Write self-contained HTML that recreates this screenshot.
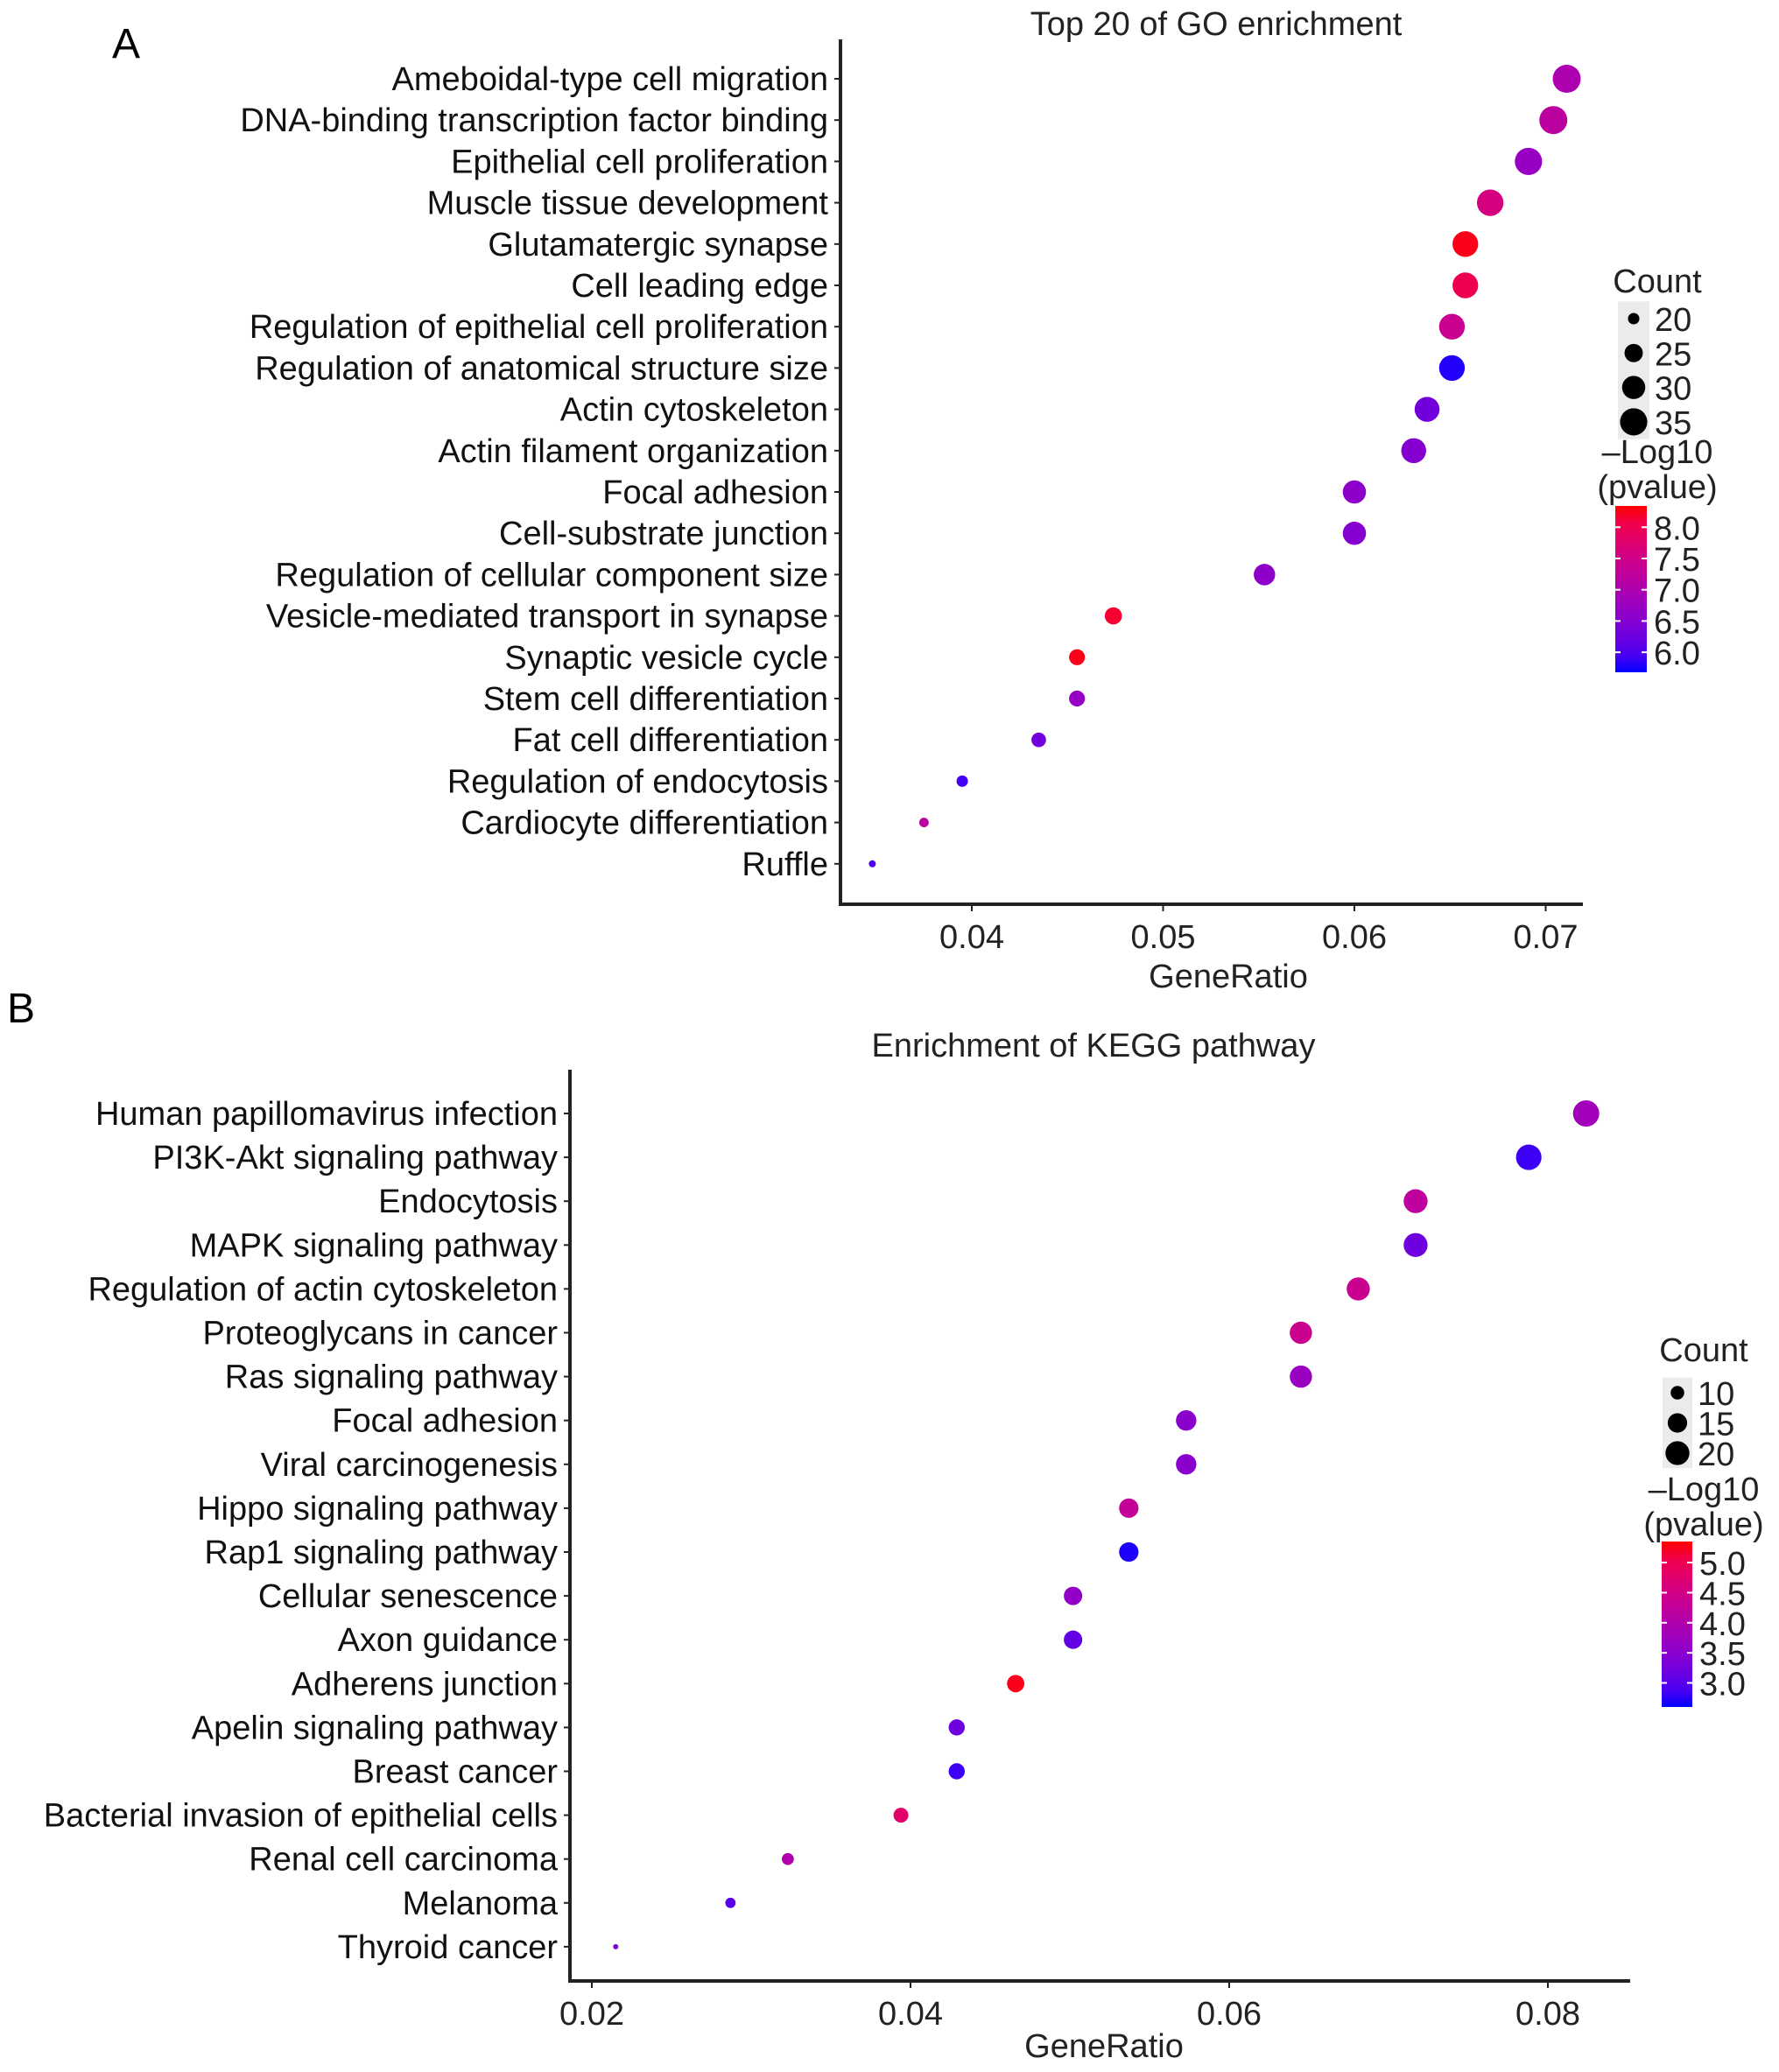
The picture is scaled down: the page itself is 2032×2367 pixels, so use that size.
<!DOCTYPE html>
<html><head><meta charset="utf-8"><style>
html,body{margin:0;padding:0;background:#fff;}
svg{display:block;font-family:"Liberation Sans",Arial,sans-serif;}
</style></head><body>
<svg id="chart" width="2032" height="2367" viewBox="0 0 2032 2367" xmlns="http://www.w3.org/2000/svg">
<defs>
<linearGradient id="gA" x1="0" y1="1" x2="0" y2="0"></linearGradient>
<linearGradient id="gB" x1="0" y1="1" x2="0" y2="0"></linearGradient>
</defs>
<text x="128" y="66" font-size="48">A</text>
<text x="8" y="1168" font-size="48">B</text>
</svg>
<script>
const goTerms=["Ameboidal-type cell migration","DNA-binding transcription factor binding","Epithelial cell proliferation","Muscle tissue development","Glutamatergic synapse","Cell leading edge","Regulation of epithelial cell proliferation","Regulation of anatomical structure size","Actin cytoskeleton","Actin filament organization","Focal adhesion","Cell-substrate junction","Regulation of cellular component size","Vesicle-mediated transport in synapse","Synaptic vesicle cycle","Stem cell differentiation","Fat cell differentiation","Regulation of endocytosis","Cardiocyte differentiation","Ruffle"];
const goRatio=[0.0711,0.0704,0.0691,0.0671,0.0658,0.0658,0.0651,0.0651,0.0638,0.0631,0.0600,0.0600,0.0553,0.0474,0.0455,0.0455,0.0435,0.0395,0.0375,0.0348];
const goCount=[36,36,35,34,33,33,33,33,32,32,30,30,28,24,23,23,22,20,19,18];
const goLogP=[7.0,7.2,6.7,7.6,8.3,8.0,7.4,5.75,6.3,6.5,6.6,6.5,6.6,8.2,8.3,6.7,6.3,5.9,7.2,6.0];
const goXTicks=[0.04,0.05,0.06,0.07];
const goSizeBreaks=[20,25,30,35];
const goColorBreaks=[8.0,7.5,7.0,6.5,6.0];

const kgTerms=["Human papillomavirus infection","PI3K-Akt signaling pathway","Endocytosis","MAPK signaling pathway","Regulation of actin cytoskeleton","Proteoglycans in cancer","Ras signaling pathway","Focal adhesion","Viral carcinogenesis","Hippo signaling pathway","Rap1 signaling pathway","Cellular senescence","Axon guidance","Adherens junction","Apelin signaling pathway","Breast cancer","Bacterial invasion of epithelial cells","Renal cell carcinoma","Melanoma","Thyroid cancer"];
const kgRatio=[0.0824,0.0788,0.0717,0.0717,0.0681,0.0645,0.0645,0.0573,0.0573,0.0537,0.0537,0.0502,0.0502,0.0466,0.0429,0.0429,0.0394,0.0323,0.0287,0.0215];
const kgCount=[23,22,20,20,19,18,18,16,16,15,15,14,14,13,12,12,11,9,8,6];
const kgLogP=[3.8,2.8,4.2,3.2,4.4,4.4,3.7,3.5,3.5,4.3,2.65,3.6,3.1,5.3,3.2,2.8,4.8,4.0,3.0,3.4];
const kgXTicks=[0.02,0.04,0.06,0.08];
const kgSizeBreaks=[10,15,20];
const kgColorBreaks=[5.0,4.5,4.0,3.5,3.0];

const svg=document.getElementById('chart');
const NS="http://www.w3.org/2000/svg";
function mk(tag,attrs,parent){const e=document.createElementNS(NS,tag);for(const k in attrs)e.setAttribute(k,attrs[k]);(parent||svg).appendChild(e);return e;}
function color(t){t=Math.max(0,Math.min(1,t));const r=Math.round(255*Math.pow(t,0.55)),b=Math.round(255*Math.pow(1-t,0.55));return `rgb(${r},0,${b})`;}

function panel(c){
  const g=mk('g',{});
  
  
  const xs=v=>c.x0+(v-c.v0)*c.pxPer;
  const ys=i=>c.yFirst+i*c.yStep;
  const cmin=Math.min(...c.count),cmax=Math.max(...c.count);
  const rs=n=>Math.sqrt(c.rmin*c.rmin+(c.rmax*c.rmax-c.rmin*c.rmin)*(n-cmin)/(cmax-cmin));
  const cs=v=>color((v-c.lmin)/(c.lmax-c.lmin));
  const t=mk('text',{x:c.titleX,y:c.titleY,'font-size':c.fs,'text-anchor':'middle',fill:'#222'},g);t.textContent=c.title;
  
  const ax=mk('path',{d:`M${c.left},${c.top}V${c.bottom}H${c.right}`,stroke:'#222','stroke-width':4,fill:'none'},g);
  
  c.terms.forEach((term,i)=>{
    const y=ys(i);
    mk('line',{x1:c.left-7,x2:c.left,y1:y,y2:y,stroke:'#222','stroke-width':2},g);
    const l=mk('text',{x:c.left-14,y:y+13,'font-size':c.fs,'text-anchor':'end',fill:'#111'},g);l.textContent=term;
    
    const d=mk('circle',{cx:xs(c.ratio[i]),cy:y,r:rs(c.count[i]),fill:cs(c.logp[i])},g);
    
  });
  c.ticks.forEach(v=>{
    const x=xs(v);
    mk('line',{x1:x,x2:x,y1:c.bottom,y2:c.bottom+8,stroke:'#222','stroke-width':2},g);
    const l=mk('text',{x:x,y:c.bottom+50,'font-size':c.fs,'text-anchor':'middle',fill:'#222'},g);l.textContent=v.toFixed(2);
    
  });
  const xt=mk('text',{x:c.xTitleX,y:c.xTitleY,'font-size':c.fs,'text-anchor':'middle',fill:'#222'},g);xt.textContent='GeneRatio';
  
  const ct=mk('text',{x:c.legX,y:c.countY,'font-size':c.fs,'text-anchor':'middle',fill:'#222'},g);ct.textContent='Count';
  
  const n=c.sizeBreaks.length;
  mk('rect',{x:c.dotX-c.rmax-2,y:c.sizeY0-c.sizeStep/2,width:2*c.rmax+4,height:c.sizeStep*n,fill:'#ebebeb'},g);
  c.sizeBreaks.forEach((b,i)=>{
    const y=c.sizeY0+i*c.sizeStep;
    const d=mk('circle',{cx:c.dotX,cy:y,r:rs(b),fill:'#000'},g);
    
    const l=mk('text',{x:c.dotX+c.rmax+8,y:y+14,'font-size':c.fs,fill:'#222'},g);l.textContent=b;
    
  });
  const lt=mk('text',{x:c.legX,y:c.logY,'font-size':c.fs,'text-anchor':'middle',fill:'#222'},g);lt.textContent='\u2013Log10';
  
  const lt2=mk('text',{x:c.legX,y:c.logY+40,'font-size':c.fs,'text-anchor':'middle',fill:'#222'},g);lt2.textContent='(pvalue)';
  
  const grad=document.getElementById(c.gid);
  for(let k=0;k<=10;k++){mk('stop',{offset:k/10,'stop-color':color(k/10)},grad);}
  const cb=mk('rect',{x:c.barX,y:c.barTop,width:c.barW,height:c.barBot-c.barTop,fill:`url(#${c.gid})`},g);
  
  const yb=v=>c.barBot-(v-c.lmin)/(c.lmax-c.lmin)*(c.barBot-c.barTop);
  c.colorBreaks.forEach(v=>{
    const y=yb(v);
    mk('line',{x1:c.barX,x2:c.barX+6,y1:y,y2:y,stroke:'#fff','stroke-width':2},g);
    mk('line',{x1:c.barX+c.barW-6,x2:c.barX+c.barW,y1:y,y2:y,stroke:'#fff','stroke-width':2},g);
    const l=mk('text',{x:c.barX+c.barW+8,y:y+14,'font-size':c.fs,fill:'#222'},g);l.textContent=v.toFixed(1);
    
  });
}

panel({name:'go-dot-plot',gid:'gA',title:'Top 20 of GO enrichment',titleX:1389,titleY:40,fs:38,
  terms:goTerms,ratio:goRatio,count:goCount,logp:goLogP,ticks:goXTicks,sizeBreaks:goSizeBreaks,colorBreaks:goColorBreaks,
  left:960,top:45,bottom:1033,right:1808,x0:1110,v0:0.04,pxPer:21850,yFirst:90,yStep:47.2,
  rmin:4,rmax:16,lmin:5.68,lmax:8.34,
  xTitleX:1403,xTitleY:1128,legX:1893,countY:334,dotX:1866,sizeY0:364,sizeStep:39.3,logY:529,
  barX:1845,barW:36,barTop:578,barBot:768});
panel({name:'kegg-dot-plot',gid:'gB',title:'Enrichment of KEGG pathway',titleX:1249,titleY:1207,fs:38,
  terms:kgTerms,ratio:kgRatio,count:kgCount,logp:kgLogP,ticks:kgXTicks,sizeBreaks:kgSizeBreaks,colorBreaks:kgColorBreaks,
  left:651,top:1222,bottom:2263,right:1862,x0:676,v0:0.02,pxPer:18200,yFirst:1272,yStep:50.1,
  rmin:3,rmax:15,lmin:2.6,lmax:5.35,
  xTitleX:1261,xTitleY:2350,legX:1946,countY:1555,dotX:1916,sizeY0:1591,sizeStep:34.5,logY:1714,
  barX:1898,barW:35,barTop:1761,barBot:1950});
</script>
</body></html>
